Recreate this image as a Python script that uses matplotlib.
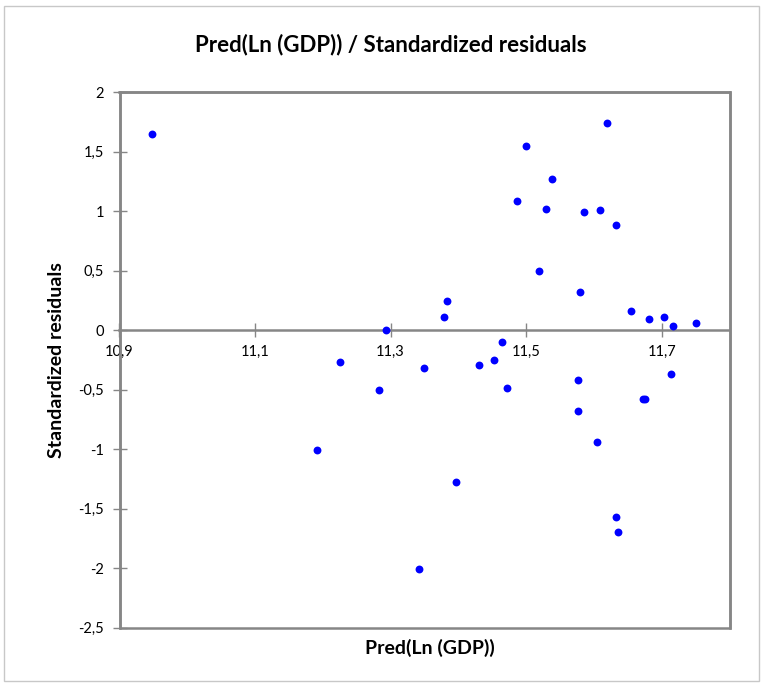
import matplotlib
matplotlib.use("Agg")
import matplotlib.pyplot as plt
from matplotlib.patches import Rectangle
from matplotlib.ticker import FuncFormatter

pred_ln_gdp = [10.948, 11.619, 11.500, 11.538, 11.486, 11.530, 11.585, 11.609, 11.632,
               11.519, 11.579, 11.383, 11.379, 11.293, 11.655, 11.681, 11.704, 11.717,
               11.751, 11.465, 11.453, 11.430, 11.471, 11.226, 11.349, 11.283, 11.577,
               11.714, 11.673, 11.675, 11.577, 11.604, 11.192, 11.396, 11.632, 11.636,
               11.342]
std_residuals = [1.645, 1.74, 1.55, 1.265, 1.08, 1.02, 0.99, 1.01, 0.88,
                 0.50, 0.32, 0.24, 0.11, 0.00, 0.16, 0.09, 0.11, 0.03,
                 0.06, -0.10, -0.25, -0.29, -0.49, -0.27, -0.32, -0.50, -0.42,
                 -0.37, -0.58, -0.58, -0.68, -0.94, -1.01, -1.28, -1.57, -1.70,
                 -2.01]

x_ticks = [10.9, 11.1, 11.3, 11.5, 11.7]
y_ticks = [2, 1.5, 1, 0.5, 0, -0.5, -1, -1.5, -2, -2.5]

title = "Pred(Ln (GDP)) / Standardized residuals"
x_label = "Pred(Ln (GDP))"
y_label = "Standardized residuals"

W, H = 763, 685
fig = plt.figure(figsize=(W / 100, H / 100), dpi=100)
left, right, top, bottom = 119.5, 729.5, 92, 627.5
ax = fig.add_axes([left / W, 1 - bottom / H, (right - left) / W, (bottom - top) / H])

# outer chart border
fig.patches.append(Rectangle((4 / W, 4 / H), (W - 8) / W, (H - 10) / H,
                             transform=fig.transFigure, fill=False,
                             edgecolor="#c8c8c8", linewidth=1.0))

ax.scatter(pred_ln_gdp, std_residuals, s=32, color="#0000ff", zorder=5,
           linewidths=0, clip_on=False)

ax.set_xlim(10.9, 11.8)
ax.set_ylim(-2.5, 2)

gray = "#868686"
for side in ["left", "right", "top"]:
    ax.spines[side].set_color(gray)
    ax.spines[side].set_linewidth(1.8)
ax.spines["bottom"].set_position(("data", 0))
ax.spines["bottom"].set_color(gray)
ax.spines["bottom"].set_linewidth(1.8)
# bottom border of plot area
ax.add_patch(Rectangle((0, 0), 1, 1, transform=ax.transAxes, fill=False,
                       edgecolor=gray, linewidth=1.8, zorder=1, clip_on=False))

def comma(v, pos):
    s = f"{v:g}"
    return s.replace(".", ",")

ax.set_xticks(x_ticks)
ax.set_yticks(y_ticks)
ax.xaxis.set_major_formatter(FuncFormatter(comma))
ax.yaxis.set_major_formatter(FuncFormatter(comma))
ax.tick_params(axis="both", direction="inout", length=10, width=1.0, color=gray,
               labelsize=10.5, labelcolor="#000000")
ax.tick_params(axis="x", pad=6)
ax.tick_params(axis="y", pad=6)
for lbl in ax.get_xticklabels() + ax.get_yticklabels():
    lbl.set_family(["Liberation Sans Narrow", "Lato", "DejaVu Sans"])

fig.text(0.512, 1 - 45 / H, title, ha="center", va="center", fontsize=16,
         fontweight="bold", family=["Lato", "DejaVu Sans"])
fig.text(430 / W, 1 - 648 / H, x_label, ha="center", va="center", fontsize=14,
         fontweight="bold", family=["Lato", "DejaVu Sans"])
fig.text(57 / W, 1 - 360 / H, y_label, ha="center", va="center", fontsize=14,
         fontweight="bold", rotation=90, family=["Lato", "DejaVu Sans"])

fig.savefig("out.png", dpi=100)
